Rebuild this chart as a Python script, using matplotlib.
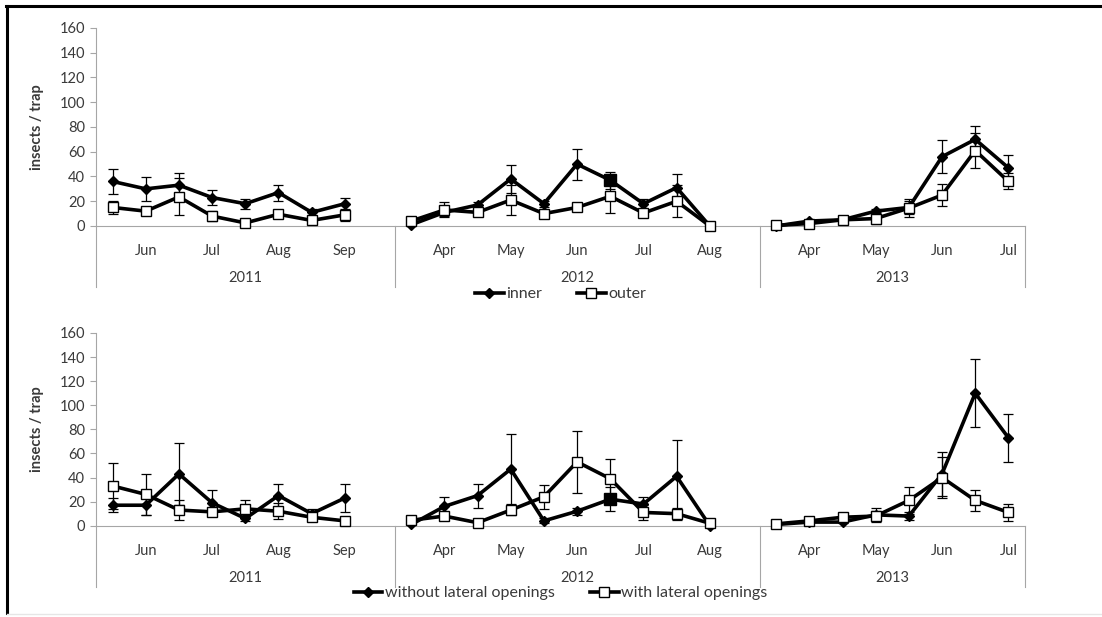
import numpy as np
import matplotlib
matplotlib.use("Agg")
import matplotlib.pyplot as plt
from matplotlib.lines import Line2D
import matplotlib.transforms as mtransforms

plt.rcParams['font.family'] = ['Lato', 'DejaVu Sans']

nan = np.nan

# ---- categories (multi-level axis) ----
years = ['2011', '2012', '2013']
months_2011 = ['', 'Jun', '', 'Jul', '', 'Aug', '', 'Sep', '']
months_2012 = ['', 'Apr', '', 'May', '', 'Jun', '', 'Jul', '', 'Aug', '']
months_2013 = ['', 'Apr', '', 'May', '', 'Jun', '', 'Jul']

# ---- top panel: inner / outer ----
inner_2011 = [36, 30, 33, 23, 18, 27, 11, 18, nan]
inner_2012 = [1, 11, 17, 38, 18, 50, 37, 18, 31, 0, nan]
inner_2013 = [0, 4, 5, 12, 15, 56, 70, 47]
inner_err_2011 = [10, 9.5, 10, 6, 4, 6.5, 3, 5, nan]
inner_err_2012 = [1, 3, 2.5, 11, 2.5, 12.5, 7, 4, 11, 0, nan]
inner_err_2013 = [0, 1, 1, 1.5, 5, 13.5, 11, 10]

outer_2011 = [15, 12, 23.5, 8, 2.5, 9.5, 4.5, 9, nan]
outer_2012 = [4, 13, 11, 21, 10, 15, 24, 10.5, 20, 0, nan]
outer_2013 = [0.5, 2, 5, 6, 14.5, 25, 61, 36]
outer_err_2011 = [5.5, 2, 15, 4, 1, 2, 1.5, 5, nan]
outer_err_2012 = [1, 6, 2, 12, 2, 1.5, 13.5, 2, 13, 0, nan]
outer_err_2013 = [0.5, 1, 1, 4, 7, 9, 14, 6.5]

# ---- bottom panel: without / with lateral openings ----
without_2011 = [17, 17, 43, 19, 6, 25, 10, 23, nan]
without_2012 = [1, 16, 25, 47, 4, 12, 22, 18, 41, 0, nan]
without_2013 = [1, 3, 3, 9, 8, 43, 110, 73]
without_err_2011 = [6, 8, 26, 11, 2, 10, 4, 12, nan]
without_err_2012 = [1, 8, 10, 29, 2, 3, 10, 6, 30, 1, nan]
without_err_2013 = [0.5, 1, 1, 6, 3, 18, 28, 20]

with_2011 = [33, 26, 13, 11.5, 14, 12, 7, 4, nan]
with_2012 = [4.5, 8, 2.5, 13, 24, 53, 39, 11, 10, 2, nan]
with_2013 = [1.5, 4, 7, 8, 21, 40, 21, 11]
with_err_2011 = [19, 17, 8.5, 3, 7, 6.5, 2, 1, nan]
with_err_2012 = [1, 2, 1, 4, 10, 26, 16, 6.5, 5, 1, nan]
with_err_2013 = [0.5, 1, 1, 4, 11, 17, 9, 7]

# point drawn with a filled square marker (2012, 7th sampling)
filled_point_year = '2012'
filled_point_pos = 6

ylabel = 'insects / trap'
legend_top = ['inner', 'outer']
legend_bottom = ['without lateral openings', 'with lateral openings']

month_groups = [months_2011, months_2012, months_2013]
categories = sum(month_groups, [])
ncat = len(categories)
xpos = np.arange(ncat) + 0.5
group_sizes = [len(m) for m in month_groups]
group_edges = np.concatenate([[0], np.cumsum(group_sizes)])
filled_idx = group_edges[years.index(filled_point_year)] + filled_point_pos

W, H = 1102, 617
fig = plt.figure(figsize=(W / 100, H / 100), dpi=100)
fig.patch.set_facecolor('white')

GRAY = '#a6a6a6'
TXT = '#3a3a3a'
FS = 10.5


def panel(rect_px, s1, e1, s2, e2, labels, ylab_y, leg_y):
    left, top0, right, ytop = rect_px
    ax = fig.add_axes([left / W, 1 - top0 / H, (right - left) / W, (top0 - ytop) / H])
    hpx = top0 - ytop
    ax.set_xlim(0, ncat)
    ax.set_ylim(0, 160)
    ax.set_yticks(np.arange(0, 161, 20))
    ax.tick_params(axis='y', direction='out', length=4, color=GRAY, labelsize=FS,
                   labelcolor=TXT, width=0.8, pad=4)
    ax.set_xticks(xpos)
    ax.set_xticklabels(categories)
    ax.tick_params(axis='x', length=0, labelsize=FS, labelcolor=TXT, pad=13)
    for sp in ['top', 'right']:
        ax.spines[sp].set_visible(False)
    ax.spines['left'].set_color(GRAY)
    ax.spines['bottom'].set_color(GRAY)
    ax.spines['left'].set_linewidth(0.8)
    ax.spines['bottom'].set_linewidth(0.8)

    trans = mtransforms.blended_transform_factory(ax.transData, ax.transAxes)
    for edge in group_edges:
        ax.add_line(Line2D([edge, edge], [0, -61 / hpx], transform=trans,
                           color=GRAY, lw=0.8, clip_on=False))
    for i, yr in enumerate(years):
        c = (group_edges[i] + group_edges[i + 1]) / 2
        ax.text(c, -52 / hpx, yr, transform=trans, ha='center', va='center',
                fontsize=FS, color=TXT)

    ax.errorbar(xpos, s1, yerr=e1, fmt='none', ecolor='black', elinewidth=0.9,
                capsize=3.5, capthick=0.9, zorder=2)
    ax.errorbar(xpos, s2, yerr=e2, fmt='none', ecolor='black', elinewidth=0.9,
                capsize=3.5, capthick=0.9, zorder=2)
    h1, = ax.plot(xpos, s1, color='black', lw=2.6, marker='D', ms=5,
                  mfc='black', mec='black', zorder=3, clip_on=False)
    h2, = ax.plot(xpos, s2, color='black', lw=2.6, marker='s', ms=7.5,
                  mfc='white', mec='black', mew=1.0, zorder=4, clip_on=False)
    ax.plot([xpos[filled_idx]], [s1[filled_idx]], ls='none', marker='s', ms=8,
            mfc='black', mec='black', zorder=5)

    ax.text(-0.063, 0.5, ylab_y, transform=ax.transAxes, rotation=90,
            ha='center', va='center', fontsize=FS, fontweight='bold', color=TXT)

    fig.legend([h1, h2], labels, loc='center',
               bbox_to_anchor=(((left + right) / 2) / W, 1 - leg_y / H),
               ncol=2, frameon=False, fontsize=11.5, handlelength=1.8,
               handletextpad=0.15, columnspacing=2.2, labelcolor=TXT,
               borderaxespad=0, borderpad=0)
    return ax


def cat(a, b, c):
    return np.array(a + b + c, dtype=float)


panel((96, 226, 1025, 28),
      cat(inner_2011, inner_2012, inner_2013), cat(inner_err_2011, inner_err_2012, inner_err_2013),
      cat(outer_2011, outer_2012, outer_2013), cat(outer_err_2011, outer_err_2012, outer_err_2013),
      legend_top, ylabel, 294)

panel((96, 525.7, 1025, 333),
      cat(without_2011, without_2012, without_2013),
      cat(without_err_2011, without_err_2012, without_err_2013),
      cat(with_2011, with_2012, with_2013), cat(with_err_2011, with_err_2012, with_err_2013),
      legend_bottom, ylabel, 593)

# outer frame (top and left edges visible in the reference)
fig.add_artist(Line2D([6 / W, 1], [1 - 5.5 / H, 1 - 5.5 / H], color='black', lw=2.2,
                      transform=fig.transFigure))
fig.add_artist(Line2D([6.5 / W, 6.5 / W], [1 - 5.5 / H, 1 - 613 / H], color='black', lw=2.2,
                      transform=fig.transFigure))
fig.add_artist(Line2D([6.5 / W, 1], [1 - 614 / H, 1 - 614 / H], color='#e6e6e6', lw=1,
                      transform=fig.transFigure))

fig.savefig('out.png', dpi=100, facecolor='white')
